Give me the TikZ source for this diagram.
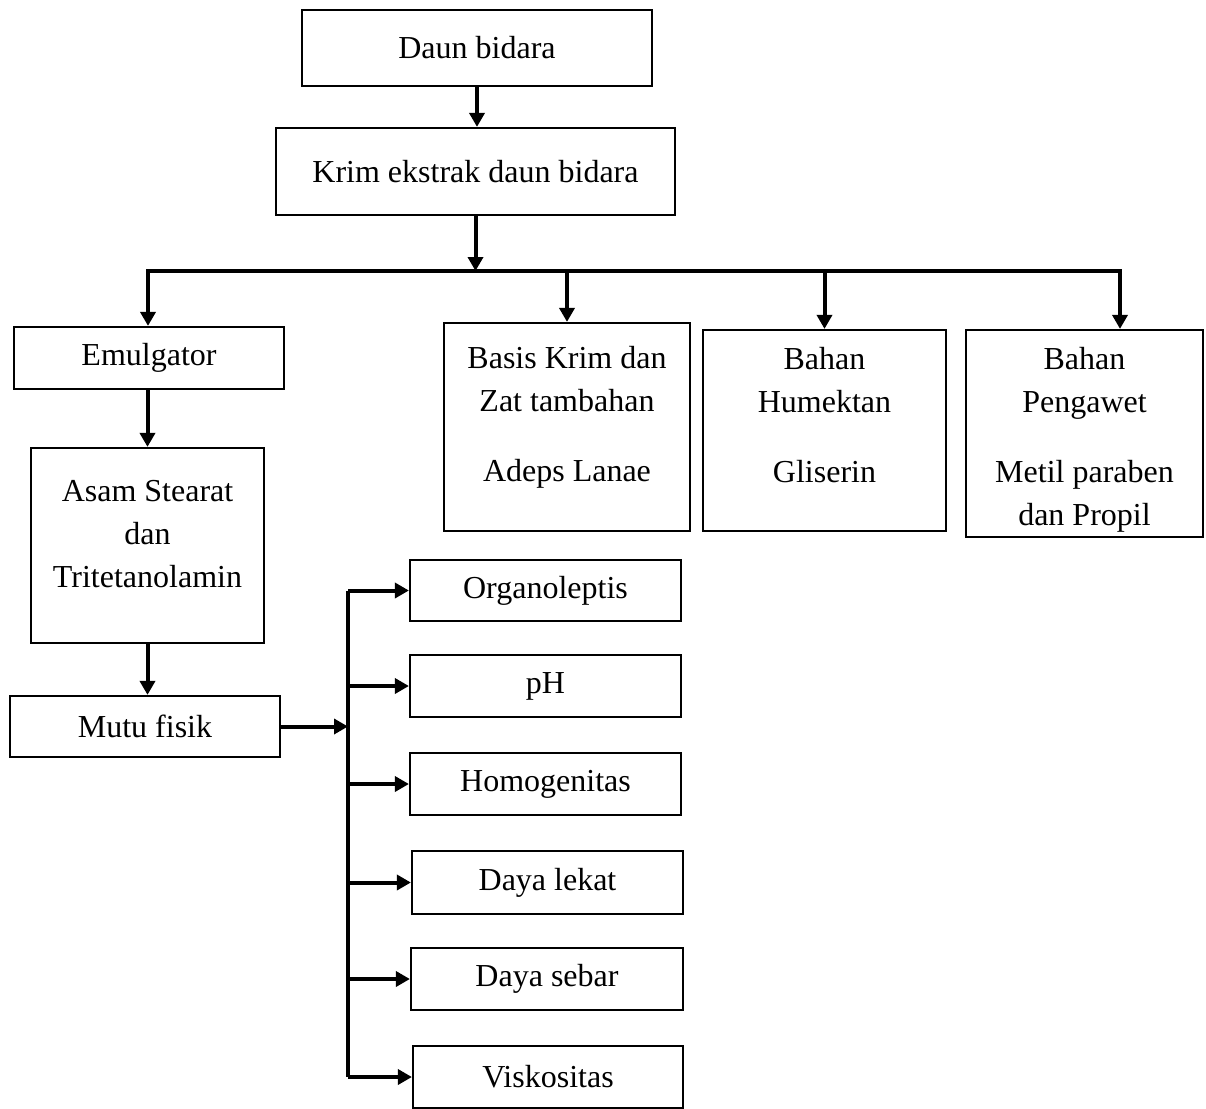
\documentclass[tikz,border=0pt]{standalone}
\usepackage{fontspec}
\setmainfont{Liberation Serif}
\usetikzlibrary{arrows.meta}

\begin{document}
\begin{tikzpicture}[x=0.5pt,y=-0.5pt,
	>={Triangle[length=7pt,width=7.5pt]},
	box/.style={draw, line width=1.1pt, inner sep=0pt},
	txt/.style={font=\fontsize{16pt}{21.5pt}\selectfont},
	arr/.style={line width=2pt, ->},
	bus/.style={line width=2pt}]
				\useasboundingbox (0,0) rectangle (1206,1109);
				\node[box, txt, minimum width=175pt, minimum height=38pt] (daun) at (477,48) {Daun bidara};
				\node[box, txt, minimum width=199.5pt, minimum height=43.5pt] (krim) at (475.5,171.5) {Krim ekstrak daun bidara};
				\draw[arr] (daun.south) -- (daun.south |- krim.north);
				\coordinate (hl) at (148,271);
				\coordinate (hr) at (1120,271);
				\draw[arr] (krim.south) -- (krim.south |- hl);
				% bahan krim
				\node[box, txt, minimum width=135pt, minimum height=31pt] (emul) at (149,358) {Emulgator};
				\node[box, minimum width=123pt, minimum height=104pt] (basis) at (567,427) {};
				\node[txt, align=center, anchor=north, yshift=-8.5pt] (basis-t) at (basis.north) {Basis Krim dan\\Zat tambahan\\[13.5pt]Adeps Lanae};
				\node[box, minimum width=121.5pt, minimum height=100.5pt] (humek) at (824.5,430.5) {};
				\node[txt, align=center, anchor=north, yshift=-5.5pt] (humek-t) at (humek.north) {Bahan\\Humektan\\[13.5pt]Gliserin};
				\node[box, minimum width=118.5pt, minimum height=103.5pt] (awet) at (1084.5,433.5) {};
				\node[txt, align=center, anchor=north, yshift=-5.5pt] (awet-t) at (awet.north) {Bahan\\Pengawet\\[13.5pt]Metil paraben\\dan Propil};
				\draw[bus, <->] (hl |- emul.north) -- (hl) -- (hr) -- (hr |- awet.north);
				\draw[arr] (basis.north |- hl) -- (basis.north);
				\draw[arr] (humek.north |- hl) -- (humek.north);
				\node[box, minimum width=116.5pt, minimum height=97.5pt] (asam) at (147.5,545.5) {};
				\node[txt, align=center, anchor=north, yshift=-13pt] (asam-t) at (asam.north) {Asam Stearat\\dan\\Tritetanolamin};
				\draw[arr] (asam.north |- emul.south) -- (asam.north);
				\node[box, txt, minimum width=135pt, minimum height=30.5pt] (mutu) at (145,726.5) {Mutu fisik};
				\draw[arr] (asam.south) -- (asam.south |- mutu.north);
				% uji mutu fisik
				\coordinate (vb) at (348,724);
				\node[box, txt, minimum width=135.5pt, minimum height=30.5pt] (organo) at (545.5,590.5) {Organoleptis};
				\node[box, txt, minimum width=135.5pt, minimum height=31pt] (ph) at (545.5,686) {pH};
				\node[box, txt, minimum width=135.5pt, minimum height=31pt] (homo) at (545.5,784) {Homogenitas};
				\node[box, txt, minimum width=135.5pt, minimum height=31.5pt] (lekat) at (547.5,882.5) {Daya lekat};
				\node[box, txt, minimum width=136pt, minimum height=31pt] (sebar) at (547,979) {Daya sebar};
				\node[box, txt, minimum width=135pt, minimum height=31pt] (visko) at (548,1077) {Viskositas};
				\draw[arr] (mutu.east) -- (mutu.east -| vb);
				\draw[bus] (organo.west -| vb) -- (visko.west -| vb);
				\draw[arr] (organo.west -| vb) -- (organo.west);
				\draw[arr] (ph.west -| vb) -- (ph.west);
				\draw[arr] (homo.west -| vb) -- (homo.west);
				\draw[arr] (lekat.west -| vb) -- (lekat.west);
				\draw[arr] (sebar.west -| vb) -- (sebar.west);
				\draw[arr] (visko.west -| vb) -- (visko.west);
			\end{tikzpicture}
\end{document}
